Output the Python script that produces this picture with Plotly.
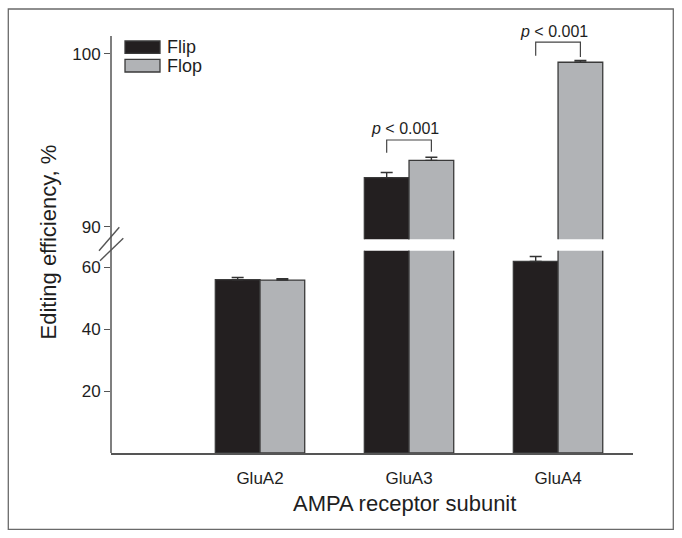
import plotly.graph_objects as go

# ---------------- data ----------------
subunits = ["GluA2", "GluA3", "GluA4"]
positions = [1, 2, 3]
flip_vals = [55.9, 92.84, 61.8]
flip_err = [0.7, 0.3, 1.6]
flop_vals = [55.8, 93.84, 99.52]
flop_err = [0.4, 0.18, 0.1]
series_names = ["Flip", "Flop"]

lower_ticks = [20, 40, 60]
upper_ticks = [90, 100]
lower_range = [0, 65.26]
upper_range = [89.27, 101.04]

# significance brackets (GluA3, GluA4)
sig_index = [1, 2]
sig_label = "<i>p</i> &lt; 0.001"
bracket_top = [95.02, 100.68]
bracket_leg_bottom = [[94.28, 94.34], [99.90, 99.83]]
label_y = [95.66, 101.31]

# ---------------- style ----------------
FONT = "Liberation Sans, Arial, Helvetica, sans-serif"
FLIP_COLOR = "#231f20"
FLOP_COLOR = "#b1b3b6"
EDGE = "#3a3a3a"
AXIS = "#555555"
TXT = "#1e1e1e"
BW = 0.3

W, H = 682, 538
ML, MR, MT, MB = 111, 49, 36, 85
PW, PH = W - ML - MR, H - MT - MB


def px(x):
    return (x - ML) / PW


def py(y):
    return (H - MB - y) / PH


lower_dom = [0, py(250.7)]
upper_dom = [py(239.3), 1]


def upper_to_paper(v):
    r0, r1 = upper_range
    return upper_dom[0] + (v - r0) / (r1 - r0) * (upper_dom[1] - upper_dom[0])


fig = go.Figure()

for yax in ["y", "y2"]:
    fig.add_trace(go.Bar(
        x=positions, y=flip_vals, name=series_names[0],
        offset=-BW, width=BW, yaxis=yax, xaxis="x",
        marker=dict(color=FLIP_COLOR, line=dict(color=EDGE, width=1.3)),
        error_y=dict(type="data", symmetric=False, array=flip_err,
                     arrayminus=[0] * len(flip_err), color="#333333",
                     thickness=1.4, width=6),
        showlegend=False,
    ))
    fig.add_trace(go.Bar(
        x=positions, y=flop_vals, name=series_names[1],
        offset=0, width=BW, yaxis=yax, xaxis="x",
        marker=dict(color=FLOP_COLOR, line=dict(color=EDGE, width=1.3)),
        error_y=dict(type="data", symmetric=False, array=flop_err,
                     arrayminus=[0] * len(flop_err), color="#333333",
                     thickness=1.4, width=6),
        showlegend=False,
    ))

shapes = []
annotations = []

# continuous y-axis line
shapes.append(dict(type="line", xref="paper", yref="paper", x0=0, x1=0, y0=0, y1=1,
                   line=dict(color=AXIS, width=1.5)))
# axis break marks
for (x0, y0, x1, y1) in [(99, 250.7, 119.3, 227.3), (100, 260.7, 123.3, 238.3)]:
    shapes.append(dict(type="line", xref="paper", yref="paper",
                       x0=px(x0), y0=py(y0), x1=px(x1), y1=py(y1),
                       line=dict(color=AXIS, width=1.4)))

# outer frame
shapes.append(dict(type="rect", xref="paper", yref="paper",
                   x0=px(8.3), x1=px(673.3), y0=py(529.3), y1=py(9),
                   line=dict(color="#6a6a6a", width=1.3)))

# legend
for name, color, (ytop, ybot) in zip(series_names, [FLIP_COLOR, FLOP_COLOR],
                                      [(41, 53.3), (59.3, 72)]):
    shapes.append(dict(type="rect", xref="paper", yref="paper",
                       x0=px(125), x1=px(160), y0=py(ybot), y1=py(ytop),
                       fillcolor=color, line=dict(color=EDGE, width=1.3)))
    annotations.append(dict(xref="paper", yref="paper", x=px(165), y=py((ytop + ybot) / 2),
                            text=name, showarrow=False, xanchor="left", yanchor="middle",
                            font=dict(family=FONT, size=18, color=TXT)))

# significance brackets
for k, i in enumerate(sig_index):
    xa = positions[i] - BW / 2
    xb = positions[i] + BW / 2
    yt = bracket_top[k]
    ya, yb = bracket_leg_bottom[k]
    shapes.append(dict(type="path", xref="x", yref="y2",
                       path=f"M {xa},{ya} L {xa},{yt} L {xb},{yt} L {xb},{yb}",
                       line=dict(color="#444444", width=1.2)))
    annotations.append(dict(xref="x", yref="paper", x=positions[i] - 0.027,
                            y=upper_to_paper(label_y[k]),
                            text=sig_label, showarrow=False, xanchor="center",
                            yanchor="middle", font=dict(family=FONT, size=16, color=TXT)))

# axis titles
annotations.append(dict(xref="paper", yref="paper", x=px(48), y=py(242.5),
                        text="Editing efficiency, %", textangle=-90, showarrow=False,
                        xanchor="center", yanchor="middle",
                        font=dict(family=FONT, size=22, color=TXT)))
annotations.append(dict(xref="paper", yref="paper", x=px(404), y=py(504),
                        text="AMPA receptor subunit", showarrow=False,
                        xanchor="center", yanchor="middle",
                        font=dict(family=FONT, size=22, color=TXT)))

tickfont = dict(family=FONT, size=17, color=TXT)

fig.update_layout(
    width=W, height=H,
    margin=dict(l=ML, r=MR, t=MT, b=MB),
    paper_bgcolor="white", plot_bgcolor="rgba(0,0,0,0)",
    barmode="overlay",
    showlegend=False,
    shapes=shapes,
    annotations=annotations,
    xaxis=dict(range=[0, 3.503], tickvals=positions, ticktext=subunits,
               showline=True, linecolor=AXIS, linewidth=1.5, ticks="",
               showgrid=False, zeroline=False, tickfont=tickfont,
               ticklabelstandoff=9, anchor="y"),
    yaxis=dict(domain=lower_dom, range=lower_range, tickvals=lower_ticks,
               showline=False, ticks="outside", ticklen=6, tickwidth=1.3,
               tickcolor=AXIS, showgrid=False, zeroline=False, tickfont=tickfont,
               anchor="x"),
    yaxis2=dict(domain=upper_dom, range=upper_range, tickvals=upper_ticks,
                showline=False, ticks="outside", ticklen=6, tickwidth=1.3,
                tickcolor=AXIS, showgrid=False, zeroline=False, tickfont=tickfont,
                anchor="x"),
)

fig.write_html("out.html",
               config={"displayModeBar": False},
               post_script="document.body.style.margin='0px';document.body.style.overflow='hidden';")
